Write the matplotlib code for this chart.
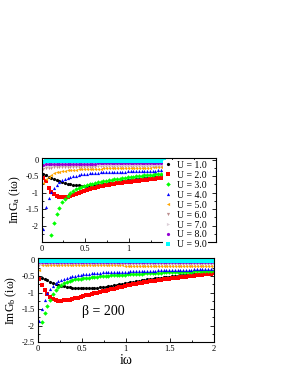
import numpy as np
import matplotlib
matplotlib.use("Agg")
import matplotlib.pyplot as plt
from matplotlib.ticker import MultipleLocator, FixedLocator, FuncFormatter

plt.rcParams['font.family'] = ['Liberation Serif', 'DejaVu Serif']
plt.rcParams['mathtext.fontset'] = 'custom'
plt.rcParams['mathtext.rm'] = 'Liberation Serif'
plt.rcParams['mathtext.it'] = 'Liberation Serif:italic'
plt.rcParams['axes.unicode_minus'] = False

# Matsubara frequencies for beta = 200
beta = 200
wn = np.pi * (2 * np.arange(64) + 1) / beta

u_labels = ['U = 1.0', 'U = 2.0', 'U = 3.0', 'U = 4.0', 'U = 5.0',
            'U = 6.0', 'U = 7.0', 'U = 8.0', 'U = 9.0']
colors = ['black', '#ff0000', '#00ff00', '#0000ff', '#ffa500',
          '#bc8f8f', '#dcd0d8', '#9400d3', '#00ffff']
markers = ['o', 's', 'D', '^', '<', 'v', '>', 'o', 's']

# orbital a (visible part, first 45 frequencies; the rest sits under the legend)
ga_u1 = [-0.45, -0.48, -0.52, -0.56, -0.60, -0.63, -0.66, -0.69, -0.71, -0.73,
         -0.75, -0.76, -0.77, -0.78, -0.79, -0.79, -0.79, -0.79, -0.78, -0.78,
         -0.77, -0.76, -0.75, -0.74, -0.72, -0.71, -0.70, -0.69, -0.67, -0.66,
         -0.64, -0.63, -0.62, -0.61, -0.60, -0.59, -0.58, -0.57, -0.56, -0.55,
         -0.54, -0.53, -0.52, -0.51, -0.50]
ga_u2 = [-0.55, -0.66, -0.85, -0.97, -1.05, -1.10, -1.13, -1.14, -1.14, -1.13,
         -1.11, -1.08, -1.04, -1.00, -0.97, -0.94, -0.91, -0.89, -0.87, -0.85,
         -0.83, -0.81, -0.79, -0.78, -0.76, -0.75, -0.73, -0.72, -0.71, -0.70,
         -0.69, -0.68, -0.67, -0.66, -0.65, -0.64, -0.63, -0.62, -0.61, -0.60,
         -0.59, -0.58, -0.57, -0.56, -0.55]
ga_u3 = [-4.00, -3.30, -2.75, -2.29, -1.93, -1.65, -1.46, -1.30, -1.18, -1.09,
         -1.01, -0.95, -0.90, -0.86, -0.82, -0.79, -0.77, -0.75, -0.73, -0.71,
         -0.69, -0.67, -0.66, -0.64, -0.63, -0.61, -0.60, -0.59, -0.58, -0.56,
         -0.55, -0.54, -0.53, -0.52, -0.51, -0.50, -0.49, -0.48, -0.47, -0.46,
         -0.46, -0.45, -0.44, -0.43, -0.43]
ga_u4 = [-2.10, -1.43, -1.17, -0.97, -0.85, -0.76, -0.69, -0.63, -0.59, -0.56,
         -0.53, -0.51, -0.49, -0.47, -0.45, -0.44, -0.43, -0.42, -0.41, -0.40,
         -0.40, -0.39, -0.39, -0.38, -0.38, -0.37, -0.37, -0.37, -0.36, -0.36,
         -0.36, -0.35, -0.35, -0.35, -0.34, -0.34, -0.34, -0.34, -0.33, -0.33,
         -0.33, -0.33, -0.32, -0.32, -0.32]
ga_u5 = [-0.72, -0.60, -0.52, -0.46, -0.42, -0.39, -0.37, -0.35, -0.33, -0.32,
         -0.31, -0.30, -0.30, -0.29, -0.29, -0.28, -0.28, -0.28, -0.27, -0.27,
         -0.27, -0.27, -0.26, -0.26, -0.26, -0.26, -0.26, -0.25, -0.25, -0.25,
         -0.25, -0.25, -0.25, -0.24, -0.24, -0.24, -0.24, -0.24, -0.24, -0.24,
         -0.23, -0.23, -0.23, -0.23, -0.23]
ga_u6 = [-0.27, -0.25, -0.24, -0.24, -0.23, -0.23, -0.23, -0.22, -0.22, -0.22,
         -0.22, -0.22, -0.21, -0.21, -0.21, -0.21, -0.21, -0.21, -0.21, -0.21,
         -0.20, -0.20, -0.20, -0.20, -0.20, -0.20, -0.20, -0.20, -0.20, -0.20,
         -0.20, -0.20, -0.20, -0.20, -0.20, -0.19, -0.19, -0.19, -0.19, -0.19,
         -0.19, -0.19, -0.19, -0.19, -0.19]
ga_u7 = [-0.20, -0.19, -0.18, -0.18, -0.17, -0.17, -0.17, -0.17, -0.16, -0.16,
         -0.16, -0.16, -0.16, -0.16, -0.16, -0.16, -0.16, -0.16, -0.16, -0.16,
         -0.16, -0.16, -0.16, -0.16, -0.16, -0.15, -0.15, -0.15, -0.15, -0.15,
         -0.15, -0.15, -0.15, -0.15, -0.15, -0.15, -0.15, -0.15, -0.15, -0.15,
         -0.15, -0.15, -0.15, -0.15, -0.15]
ga_u8 = [-0.15, -0.14, -0.13, -0.13, -0.13, -0.12, -0.12, -0.12, -0.12, -0.12,
         -0.12, -0.12, -0.12, -0.12, -0.12, -0.12, -0.12, -0.12, -0.12, -0.12,
         -0.11, -0.11, -0.11, -0.11, -0.11, -0.11, -0.11, -0.11, -0.11, -0.11,
         -0.11, -0.11, -0.11, -0.11, -0.11, -0.11, -0.11, -0.11, -0.11, -0.11,
         -0.11, -0.11, -0.11, -0.11, -0.11]
ga_u9 = [-0.06, -0.05, -0.05, -0.04, -0.04, -0.04, -0.04, -0.04, -0.04, -0.04,
         -0.04, -0.04, -0.04, -0.04, -0.04, -0.04, -0.04, -0.04, -0.04, -0.04,
         -0.04, -0.04, -0.04, -0.04, -0.04, -0.04, -0.04, -0.04, -0.04, -0.04,
         -0.04, -0.04, -0.04, -0.04, -0.04, -0.04, -0.04, -0.04, -0.04, -0.04,
         -0.04, -0.04, -0.04, -0.04, -0.04]

# orbital b (64 frequencies)
gb_u1 = [-0.52, -0.55, -0.59, -0.63, -0.67, -0.71, -0.74, -0.77, -0.79, -0.81,
         -0.83, -0.84, -0.85, -0.86, -0.86, -0.87, -0.87, -0.87, -0.86, -0.86,
         -0.85, -0.85, -0.84, -0.83, -0.82, -0.81, -0.79, -0.78, -0.76, -0.75,
         -0.73, -0.71, -0.70, -0.68, -0.67, -0.66, -0.64, -0.63, -0.62, -0.60,
         -0.59, -0.58, -0.57, -0.56, -0.55, -0.54, -0.53, -0.52, -0.51, -0.50,
         -0.49, -0.48, -0.47, -0.46, -0.46, -0.45, -0.44, -0.43, -0.43, -0.42,
         -0.41, -0.41, -0.40, -0.39]
gb_u2 = [-0.60, -0.78, -0.93, -1.05, -1.13, -1.19, -1.23, -1.25, -1.25, -1.24,
         -1.23, -1.21, -1.19, -1.17, -1.15, -1.12, -1.10, -1.08, -1.06, -1.04,
         -1.02, -1.00, -0.98, -0.96, -0.94, -0.92, -0.90, -0.88, -0.86, -0.84,
         -0.82, -0.80, -0.78, -0.77, -0.75, -0.74, -0.72, -0.71, -0.69, -0.68,
         -0.66, -0.65, -0.64, -0.62, -0.61, -0.60, -0.59, -0.58, -0.57, -0.56,
         -0.55, -0.54, -0.53, -0.52, -0.51, -0.50, -0.49, -0.48, -0.47, -0.46,
         -0.45, -0.44, -0.43, -0.42]
gb_u3 = [-3.00, -1.88, -1.62, -1.42, -1.22, -1.05, -0.92, -0.83, -0.76, -0.71,
         -0.67, -0.64, -0.62, -0.60, -0.59, -0.58, -0.57, -0.56, -0.55, -0.54,
         -0.53, -0.52, -0.51, -0.50, -0.50, -0.49, -0.48, -0.48, -0.47, -0.47,
         -0.46, -0.46, -0.45, -0.45, -0.44, -0.44, -0.43, -0.43, -0.42, -0.42,
         -0.41, -0.41, -0.40, -0.40, -0.40, -0.39, -0.39, -0.38, -0.38, -0.38,
         -0.37, -0.37, -0.37, -0.36, -0.36, -0.36, -0.35, -0.35, -0.35, -0.35,
         -0.34, -0.34, -0.34, -0.34]
gb_u4 = [-1.86, -1.50, -1.22, -1.02, -0.89, -0.79, -0.72, -0.66, -0.62, -0.58,
         -0.55, -0.53, -0.51, -0.49, -0.47, -0.46, -0.45, -0.44, -0.43, -0.42,
         -0.41, -0.40, -0.40, -0.39, -0.39, -0.38, -0.38, -0.37, -0.37, -0.37,
         -0.36, -0.36, -0.36, -0.35, -0.35, -0.35, -0.34, -0.34, -0.34, -0.33,
         -0.33, -0.33, -0.33, -0.32, -0.32, -0.32, -0.32, -0.31, -0.31, -0.31,
         -0.31, -0.30, -0.30, -0.30, -0.30, -0.30, -0.29, -0.29, -0.29, -0.29,
         -0.29, -0.29, -0.28, -0.28]
gb_u5 = [-0.30, -0.17, -0.15, -0.15, -0.15, -0.16, -0.16, -0.16, -0.16, -0.16,
         -0.16, -0.16, -0.16, -0.16, -0.16, -0.17, -0.17, -0.17, -0.17, -0.17,
         -0.17, -0.17, -0.17, -0.17, -0.17, -0.17, -0.17, -0.17, -0.17, -0.17,
         -0.17, -0.18, -0.18, -0.18, -0.18, -0.18, -0.18, -0.18, -0.18, -0.18,
         -0.18, -0.18, -0.18, -0.18, -0.18, -0.18, -0.19, -0.19, -0.19, -0.19,
         -0.19, -0.19, -0.19, -0.19, -0.19, -0.19, -0.19, -0.19, -0.19, -0.19,
         -0.19, -0.19, -0.19, -0.19]
gb_u6 = [-0.15, -0.13, -0.12, -0.12, -0.12, -0.12, -0.12, -0.12, -0.12, -0.12,
         -0.12, -0.12, -0.12, -0.12, -0.12, -0.12, -0.12, -0.12, -0.12, -0.12,
         -0.12, -0.12, -0.12, -0.12, -0.12, -0.12, -0.12, -0.12, -0.12, -0.12,
         -0.12, -0.12, -0.12, -0.12, -0.12, -0.12, -0.12, -0.12, -0.12, -0.12,
         -0.12, -0.12, -0.12, -0.12, -0.12, -0.12, -0.12, -0.12, -0.12, -0.12,
         -0.12, -0.12, -0.12, -0.12, -0.12, -0.12, -0.12, -0.12, -0.12, -0.12,
         -0.12, -0.12, -0.12, -0.12]
gb_u7 = [-0.12, -0.11, -0.10, -0.10, -0.10, -0.10, -0.10, -0.10, -0.10, -0.10,
         -0.10, -0.10, -0.10, -0.10, -0.10, -0.10, -0.10, -0.10, -0.10, -0.10,
         -0.10, -0.10, -0.10, -0.10, -0.10, -0.10, -0.10, -0.10, -0.10, -0.10,
         -0.10, -0.10, -0.10, -0.10, -0.10, -0.10, -0.10, -0.10, -0.10, -0.10,
         -0.10, -0.10, -0.10, -0.10, -0.10, -0.10, -0.10, -0.10, -0.10, -0.10,
         -0.10, -0.10, -0.10, -0.10, -0.10, -0.10, -0.10, -0.10, -0.10, -0.10,
         -0.10, -0.10, -0.10, -0.10]
gb_u8 = [-0.06, -0.07, -0.08, -0.08, -0.08, -0.08, -0.08, -0.08, -0.08, -0.08,
         -0.08, -0.08, -0.08, -0.08, -0.08, -0.08, -0.08, -0.08, -0.08, -0.08,
         -0.08, -0.08, -0.08, -0.08, -0.08, -0.08, -0.08, -0.08, -0.08, -0.08,
         -0.08, -0.08, -0.08, -0.08, -0.08, -0.08, -0.08, -0.08, -0.08, -0.08,
         -0.08, -0.08, -0.08, -0.08, -0.08, -0.08, -0.08, -0.08, -0.08, -0.08,
         -0.08, -0.08, -0.08, -0.08, -0.08, -0.08, -0.08, -0.08, -0.08, -0.08,
         -0.08, -0.08, -0.08, -0.08]
gb_u9 = [-0.05, -0.04, -0.04, -0.04, -0.04, -0.04, -0.04, -0.04, -0.04, -0.04,
         -0.04, -0.04, -0.04, -0.04, -0.04, -0.04, -0.04, -0.04, -0.04, -0.04,
         -0.04, -0.04, -0.04, -0.04, -0.04, -0.04, -0.04, -0.04, -0.04, -0.04,
         -0.04, -0.04, -0.04, -0.04, -0.04, -0.04, -0.04, -0.04, -0.04, -0.04,
         -0.04, -0.04, -0.04, -0.04, -0.04, -0.04, -0.04, -0.04, -0.04, -0.04,
         -0.04, -0.04, -0.04, -0.04, -0.04, -0.04, -0.04, -0.04, -0.04, -0.04,
         -0.04, -0.04, -0.04, -0.04]

ga_series = [ga_u1, ga_u2, ga_u3, ga_u4, ga_u5, ga_u6, ga_u7, ga_u8, ga_u9]
gb_series = [gb_u1, gb_u2, gb_u3, gb_u4, gb_u5, gb_u6, gb_u7, gb_u8, gb_u9]

W, H = 293, 380
fig = plt.figure(figsize=(W / 100, H / 100), dpi=100)
ax_a = fig.add_axes([41.7 / W, 1 - 242 / H, (216 - 41.7) / W, 84 / H])
ax_b = fig.add_axes([37.7 / W, 1 - 342 / H, (214 - 37.7) / W, 84 / H])

fmt = FuncFormatter(lambda v, p: '%g' % v)
fmt_a = FuncFormatter(lambda v, p: '%g' % v if v <= 1 else '')


def style_axis(ax, yticks, xfmt):
    ax.set_xlim(0, 2)
    ax.set_ylim(-2.5, 0.05)
    ax.xaxis.set_major_locator(FixedLocator([0, 0.5, 1, 1.5, 2]))
    ax.yaxis.set_major_locator(FixedLocator(yticks))
    ax.xaxis.set_minor_locator(MultipleLocator(0.25))
    ax.yaxis.set_minor_locator(MultipleLocator(0.25))
    ax.xaxis.set_major_formatter(xfmt)
    ax.yaxis.set_major_formatter(fmt)
    ax.tick_params(which='both', direction='in', top=True, right=True,
                   labelsize=6, pad=2, width=0.6)
    ax.tick_params(which='major', length=3)
    ax.tick_params(which='minor', length=1.6)
    for s in ax.spines.values():
        s.set_linewidth(0.8)


for ys, c, m, lab in zip(ga_series, colors, markers, u_labels):
    ax_a.plot(wn[:len(ys)], ys, ls='none', marker=m, ms=2.3, mew=0,
              color=c, label=lab)
for ys, c, m in zip(gb_series, colors, markers):
    ax_b.plot(wn[:len(ys)], ys, ls='none', marker=m, ms=2.3, mew=0, color=c)

style_axis(ax_a, [-2, -1.5, -1, -0.5, 0], fmt_a)
style_axis(ax_b, [-2.5, -2, -1.5, -1, -0.5, 0], fmt)

ax_a.set_ylabel(r'ImG$_{\mathrm{a}}$ (iω)', fontsize=8.5, labelpad=2)
ax_b.set_ylabel(r'ImG$_{\mathrm{b}}$ (iω)', fontsize=8.5, labelpad=2)
ax_b.set_xlabel('iω', fontsize=10, labelpad=1)
ax_b.text(0.5, -1.58, 'β = 200', fontsize=10, va='center', ha='left')

# legend sits over the right part of the top panel, top/right spines stay visible
leg = ax_a.legend(loc='upper left', bbox_to_anchor=(163 / W, 1 - 159.5 / H),
                  bbox_transform=fig.transFigure, fontsize=7, frameon=True,
                  handlelength=0.8, handletextpad=0.5, labelspacing=0.1,
                  borderpad=0.12, borderaxespad=0, markerscale=1.0)
leg.get_frame().set_facecolor('white')
leg.get_frame().set_edgecolor('none')
leg.get_frame().set_alpha(1)
leg.set_zorder(5)
ax_a.spines['top'].set_zorder(6)
ax_a.spines['right'].set_zorder(6)

fig.savefig('out.png', dpi=100)
